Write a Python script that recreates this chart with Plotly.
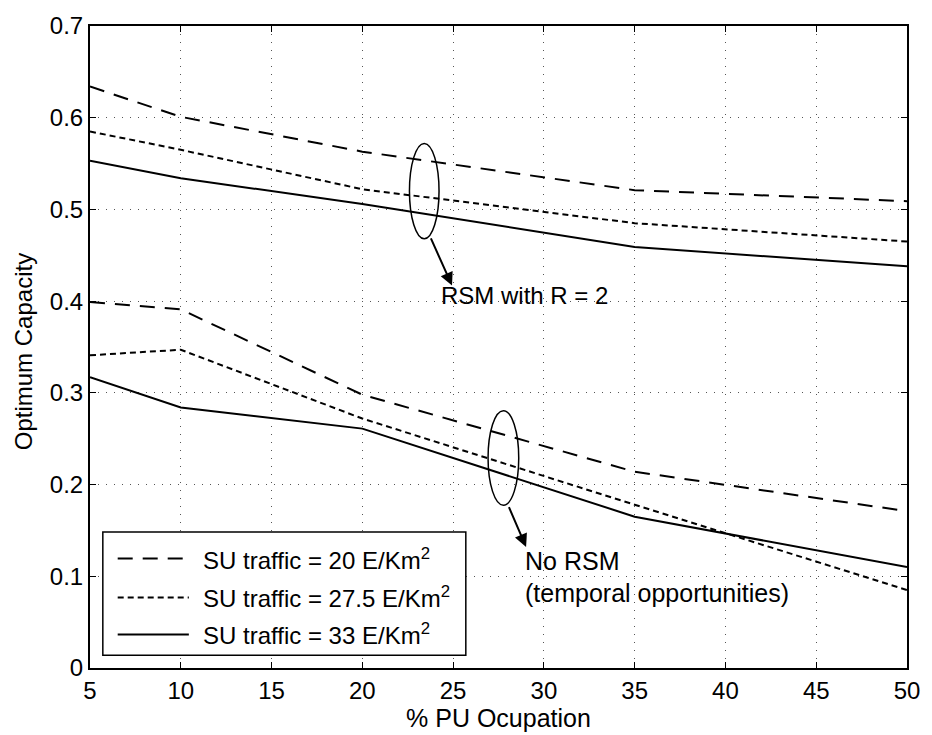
import plotly.graph_objects as go

x_vals = [5, 10, 20, 35, 50]
rsm_20 = [0.634, 0.601, 0.563, 0.521, 0.509]
rsm_275 = [0.585, 0.565, 0.522, 0.485, 0.465]
rsm_33 = [0.553, 0.534, 0.506, 0.459, 0.438]
norsm_20 = [0.399, 0.391, 0.298, 0.214, 0.171]
norsm_275 = [0.341, 0.347, 0.272, 0.178, 0.085]
norsm_33 = [0.317, 0.284, 0.261, 0.165, 0.110]

x_ticks = [5, 10, 15, 20, 25, 30, 35, 40, 45, 50]
y_ticks = [0, 0.1, 0.2, 0.3, 0.4, 0.5, 0.6, 0.7]
y_ticktext = ["0", "0.1", "0.2", "0.3", "0.4", "0.5", "0.6", "0.7"]
names = ["SU traffic = 20 E/Km<sup>2</sup>", "SU traffic = 27.5 E/Km<sup>2</sup>", "SU traffic = 33 E/Km<sup>2</sup>"]
dashes = ["15px,10px", "6px,4px", "solid"]

FONT = "Liberation Sans, Arial, Helvetica, sans-serif"
FS = 24

fig = go.Figure()
for i, (top, bot) in enumerate([(rsm_20, norsm_20), (rsm_275, norsm_275), (rsm_33, norsm_33)]):
    fig.add_trace(go.Scatter(x=x_vals, y=top, mode="lines", name=names[i], showlegend=False,
                             line=dict(color="black", width=2, dash=dashes[i])))
    fig.add_trace(go.Scatter(x=x_vals, y=bot, mode="lines", name=names[i], showlegend=False,
                             line=dict(color="black", width=2, dash=dashes[i])))

# ellipses
ellipses = [(23.41, 0.520, 1.63, 0.104), (27.77, 0.229, 1.69, 0.103)]
for cx, cy, w, h in ellipses:
    fig.add_shape(type="circle", xref="x", yref="y", x0=cx - w / 2, x1=cx + w / 2,
                  y0=cy - h / 2, y1=cy + h / 2, line=dict(color="black", width=1.5))

# arrows
arrows = [((23.74, 0.470), (24.94, 0.417)), ((28.04, 0.177), (29.02, 0.132))]
for (ax0, ay0), (ax1, ay1) in arrows:
    fig.add_annotation(x=ax1, y=ay1, ax=ax0, ay=ay0, xref="x", yref="y", axref="x", ayref="y",
                       showarrow=True, arrowhead=2, arrowsize=1.3, arrowwidth=2, arrowcolor="black", text="")

fig.add_annotation(x=24.23, y=0.406, xref="x", yref="y", text="RSM with R = 2", showarrow=False,
                   xanchor="left", yanchor="middle", font=dict(size=FS, color="black", family=FONT))
fig.add_annotation(x=28.86, y=0.117, xref="x", yref="y", text="No RSM",
                   showarrow=False, xanchor="left", yanchor="middle",
                   font=dict(size=25, color="black", family=FONT))
fig.add_annotation(x=28.86, y=0.0817, xref="x", yref="y", text="(temporal opportunities)",
                   showarrow=False, xanchor="left", yanchor="middle",
                   font=dict(size=25, color="black", family=FONT))

# manual legend (paper coordinates relative to plot area)
fig.add_shape(type="rect", xref="paper", yref="paper", x0=0.0157, x1=0.460, y0=0.020, y1=0.212,
              line=dict(color="black", width=1.5), fillcolor="white", layer="above")
row_y = [0.1705, 0.110, 0.0522]
for i in range(3):
    fig.add_shape(type="line", xref="paper", yref="paper", x0=0.0339, x1=0.121, y0=row_y[i], y1=row_y[i],
                  line=dict(color="black", width=2, dash=dashes[i]), layer="above")
    fig.add_annotation(x=0.1356, y=row_y[i], xref="paper", yref="paper", text=names[i], showarrow=False,
                       xanchor="left", yanchor="middle", font=dict(size=FS, color="black", family=FONT))

# y axis title
fig.add_annotation(x=-0.0811, y=0.493, xref="paper", yref="paper", text="Optimum Capacity", textangle=-90,
                   showarrow=False, xanchor="center", yanchor="middle",
                   font=dict(size=24, color="black", family=FONT))

fig.update_layout(
    width=932, height=735,
    margin=dict(l=90, r=16, t=20, b=64),
    plot_bgcolor="white", paper_bgcolor="white",
    font=dict(family=FONT, color="black", size=FS),
    showlegend=False,
)
grid = dict(showgrid=True, gridcolor="#555", griddash="1px,7px", gridwidth=1, zeroline=False)
fig.update_xaxes(range=[5, 50], tickvals=x_ticks, ticks="inside", ticklen=6, tickcolor="black",
                 showline=True, linecolor="black", linewidth=2, mirror="ticks",
                 title=dict(text="% PU Ocupation", font=dict(size=25), standoff=2),
                 tickfont=dict(size=FS), **grid)
fig.update_yaxes(range=[0, 0.7], tickvals=y_ticks, ticktext=y_ticktext,
                 ticks="inside", ticklen=6, tickcolor="black",
                 showline=True, linecolor="black", linewidth=2, mirror="ticks",
                 tickfont=dict(size=FS), **grid)

fig.write_html("out.html")
